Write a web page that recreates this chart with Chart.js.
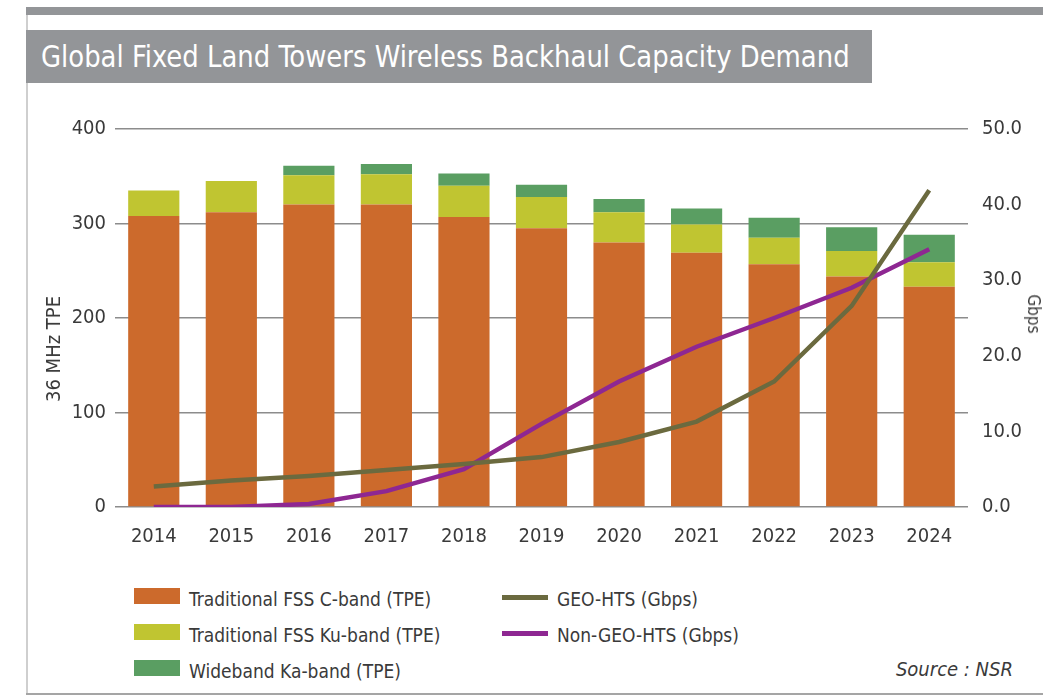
<!DOCTYPE html>
<html>
<head>
<meta charset="utf-8">
<script src="https://cdn.jsdelivr.net/npm/chart.js"></script>
<style>
  body { margin: 0; width: 1043px; height: 696px; background: #fff; position: relative; overflow: hidden;
         font-family: 'DejaVu Sans Condensed', 'Liberation Sans Narrow', sans-serif; color: #3a3a3a; }
  .topbar { position: absolute; left: 26px; top: 7px; width: 1017px; height: 8px; background: #939598; }
  .leftline { position: absolute; left: 26px; top: 15px; width: 2px; height: 679px; background: #cfcfcf; }
  .bottomline { position: absolute; left: 26px; top: 693px; width: 1017px; height: 2px; background: #a5a5a5; }
  .titlebox { position: absolute; left: 26px; top: 30px; width: 846px; height: 53px; background: #939598; }
  .titletext { position: absolute; left: 41px; top: 30px; height: 53px; line-height: 53px; color: #fff;
               font-size: 30px; white-space: nowrap; transform: scaleX(0.96); transform-origin: left center; }
  #wrap { position: absolute; left: 0; top: 100px; width: 1043px; height: 452px; }
  .axtitle { position: absolute; white-space: nowrap; color: #3a3a3a; }
  .legend { position: absolute; font-size: 19px; white-space: nowrap; }
  .legend .item { position: absolute; height: 20px; line-height: 20px; }
  .legend .sw { position: absolute; left: 0; }
  .legend .lab { position: absolute; left: 55px; top: 0; }
  .source { position: absolute; right: 30px; top: 657px; font-size: 20px; font-style: italic; }
</style>
</head>
<body>
<div class="topbar"></div>
<div class="leftline"></div>
<div class="bottomline"></div>
<div class="titlebox"></div>
<div class="titletext">Global Fixed Land Towers Wireless Backhaul Capacity Demand</div>
<div id="wrap"><canvas id="chart" width="1043" height="452"></canvas></div>
<div class="axtitle" style="left:53px; top:349px; font-size:20px; transform: translate(-50%,-50%) rotate(-90deg);">36 MHz TPE</div>
<div class="axtitle" style="left:1034px; top:314px; font-size:17px; transform: translate(-50%,-50%) rotate(90deg);">Gbps</div>
<div class="legend" id="legend"></div>
<div class="source">Source : NSR</div>

<script>
const fontFam = "'DejaVu Sans Condensed', 'Liberation Sans Narrow', sans-serif";

// data
const years = ["2014", "2015", "2016", "2017", "2018", "2019", "2020", "2021", "2022", "2023", "2024"];
const cBand = [308, 312, 320, 320, 307, 295, 280, 269, 257, 244, 233];
const kuBand = [27, 33, 31, 32, 33, 33, 32, 30, 28, 27, 26];
const kaBand = [0, 0, 10, 11, 13, 13, 14, 17, 21, 25, 29];
const geoHts = [2.7, 3.5, 4.1, 4.9, 5.7, 6.6, 8.6, 11.3, 16.6, 26.6, 41.9];
const nonGeoHts = [0.0, 0.0, 0.4, 2.1, 5.0, 11.0, 16.6, 21.2, 25.0, 29.0, 34.1];

const tpeTicks = [0, 100, 200, 300, 400];
const gbpsTicks = [0, 10, 20, 30, 40, 50];

const ctx = document.getElementById("chart");

const chart = new Chart(ctx, {
  type: "bar",
  data: {
    labels: years,
    datasets: [
      { type: "line", label: "GEO-HTS (Gbps)", data: geoHts, yAxisID: "y1", order: 0,
        borderColor: "#6b6a3f", backgroundColor: "#6b6a3f", borderWidth: 4.5, pointRadius: 0, tension: 0, col: 2 },
      { type: "line", label: "Non-GEO-HTS (Gbps)", data: nonGeoHts, yAxisID: "y1", order: 0,
        borderColor: "#8e2792", backgroundColor: "#8e2792", borderWidth: 4.5, pointRadius: 0, tension: 0, col: 2 },
      { label: "Traditional FSS C-band (TPE)", data: cBand, backgroundColor: "#cc6a2c", order: 1, col: 1 },
      { label: "Traditional FSS Ku-band (TPE)", data: kuBand, backgroundColor: "#c0c531", order: 1, col: 1 },
      { label: "Wideband Ka-band (TPE)", data: kaBand, backgroundColor: "#5a9e62", order: 1, col: 1 }
    ]
  },
  options: {
    responsive: false,
    animation: false,
    layout: { padding: { top: 29, left: 0, right: 0, bottom: 0 } },
    datasets: { bar: { categoryPercentage: 1, barPercentage: 0.66 } },
    plugins: { legend: { display: false }, tooltip: { enabled: false } },
    scales: {
      x: {
        stacked: true,
        grid: { display: false },
        border: { display: false },
        ticks: { color: "#3a3a3a", font: { family: fontFam, size: 20 }, padding: 10, maxRotation: 0 },
        afterFit: function (scale) { scale.height = 45; }
      },
      y: {
        stacked: true,
        position: "left",
        min: tpeTicks[0],
        max: tpeTicks[tpeTicks.length - 1],
        grid: { color: "#8c8c8c", lineWidth: 1.5, drawTicks: false },
        border: { display: false },
        ticks: { stepSize: 100, color: "#3a3a3a", font: { family: fontFam, size: 20 }, padding: 9 },
        afterFit: function (scale) { scale.width = 115; }
      },
      y1: {
        position: "right",
        min: gbpsTicks[0],
        max: gbpsTicks[gbpsTicks.length - 1],
        grid: { drawOnChartArea: false, drawTicks: false },
        border: { display: false },
        ticks: { stepSize: 10, color: "#3a3a3a", font: { family: fontFam, size: 20 }, padding: 14,
                 callback: function (v) { return v.toFixed(1); } },
        afterFit: function (scale) { scale.width = 75; }
      }
    }
  }
});

// legend from the chart datasets
function buildLegend() {
  const legend = document.getElementById("legend");
  const rowsY = [589, 625, 661];
  let r1 = 0, r2 = 0;
  const sets = chart.data.datasets.filter(d => d.col === 1).concat(chart.data.datasets.filter(d => d.col === 2));
  sets.forEach(ds => {
    const item = document.createElement("div");
    item.className = "item";
    const sw = document.createElement("div");
    sw.className = "sw";
    const lab = document.createElement("div");
    lab.className = "lab";
    lab.textContent = ds.label;
    if (ds.col === 1) {
      item.style.left = "134px";
      item.style.top = rowsY[r1++] + "px";
      sw.style.cssText = "top:-1px;width:46px;height:16px;background:" + ds.backgroundColor;
    } else {
      item.style.left = "502px";
      item.style.top = rowsY[r2++] + "px";
      sw.style.cssText = "top:6px;width:46px;height:5px;background:" + ds.borderColor;
    }
    item.appendChild(sw);
    item.appendChild(lab);
    legend.appendChild(item);
  });
}
buildLegend();
</script>
</body>
</html>
